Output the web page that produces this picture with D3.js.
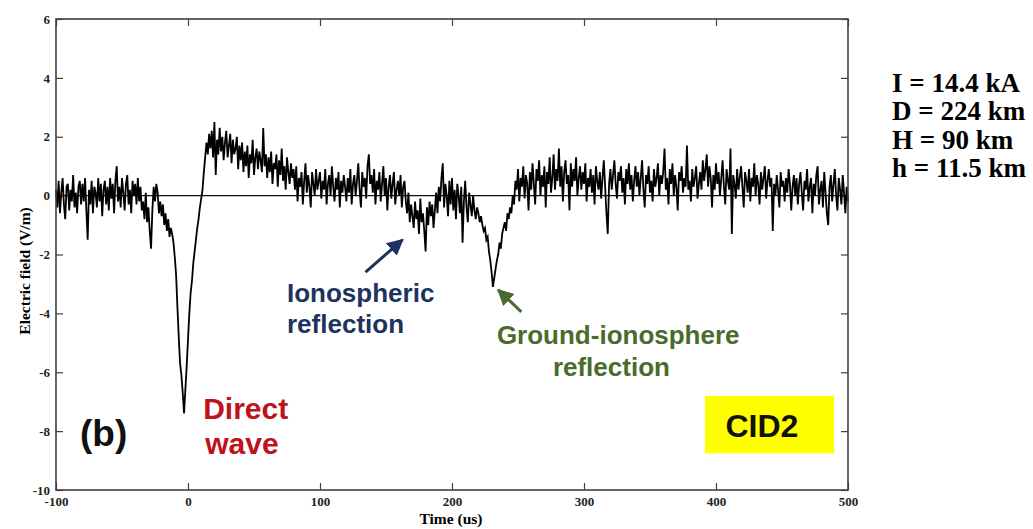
<!DOCTYPE html>
<html>
<head>
<meta charset="utf-8">
<script src="https://cdn.jsdelivr.net/npm/d3@7"></script>
<style>
  body { margin: 0; background: #fff; }
</style>
</head>
<body>
<div class="chart"></div>
<script>
// Chart size
var svgWidth = 1033;
var svgHeight = 529;
var margin = {top: 19, right: 185, bottom: 39, left: 56};
var width = svgWidth - margin.left - margin.right;
var height = svgHeight - margin.top - margin.bottom;

// data
var tStart = -100;   // first sample (us)
var tStep = 1;       // sample spacing (us)
var xTicks = [-100, 0, 100, 200, 300, 400, 500];
var yTicks = [-10, -8, -6, -4, -2, 0, 2, 4, 6];
var params = ["I = 14.4 kA", "D = 224 km", "H = 90 km", "h = 11.5 km"];

// electric field (V/m), one value per us from -100 to 500
var field = [
  0.2, -0.4, 0.5, -0.6, 0.1, 0.6, -0.3, -0.8, 0.3, 0.4, -0.5, 0.2, -0.2, 0.7, -0.4, 0.1, -0.6, 0.3, 0.5, -0.3,
  0.4, -0.2, 0.6, -0.5, -1.5, 0.2, -0.3, 0.5, -0.6, 0.3, 0.1, -0.4, 0.6, -0.2, 0.4, -0.7, 0.2, 0.5, -0.3, 0.3,
  -0.5, 0.6, -0.1, 0.4, -0.6, 0.5, 1.0, -0.2, 0.3, -0.4, 0.6, 0.1, -0.5, 0.4, 0.7, -0.3, 0.2, -0.6, 0.5, 0.0,
  0.4, -0.3, 0.6, -0.2, 0.3, -0.5, -0.2, -0.8, 0.1, -0.9, -0.4, -1.2, -1.8, -0.5, 0.3, -0.2, 0.4, 0.1, -0.6, -0.2,
  -0.7, -0.3, -1.0, -0.6, -1.2, -0.8, -1.4, -1.1, -1.3, -1.6, -2.1, -2.7, -3.8, -4.8, -5.7, -6.1, -6.7, -7.4, -6.6, -5.8,
  -4.9, -4.0, -3.3, -2.9, -2.3, -1.9, -1.5, -1.1, -0.8, -0.4, -0.1, 0.2, 0.8, 1.3, 1.8, 1.4, 2.1, 1.6, 2.2, 1.3,
  2.5, 0.7, 1.9, 1.4, 2.3, 1.5, 2.0, 1.2, 1.8, 2.2, 1.3, 1.7, 2.1, 1.1, 1.9, 1.4, 1.6, 2.0, 0.9, 1.7,
  1.2, 1.8, 0.8, 1.5, 1.0, 1.7, 0.6, 1.4, 1.1, 1.9, 0.7, 1.3, 1.6, 0.9, 1.5, 1.2, 0.8, 2.3, 1.0, 1.4,
  0.6, 1.3, 0.8, 1.5, 0.4, 1.1, 0.9, 1.4, 0.3, 1.2, 0.7, 1.6, 0.5, 1.0, 0.2, 1.3, 0.8, 0.4, 1.1, 0.6,
  0.9, 0.2, 1.0, -0.2, 0.6, 0.3, 0.8, -0.3, 0.5, 1.1, 0.1, 0.7, 0.3, -0.4, 0.8, 0.4, 0.0, 0.9, 0.2, 0.5,
  0.8, -0.1, 0.5, 0.2, 0.9, -0.3, 0.4, 0.7, 0.0, 1.0, 0.3, -0.2, 0.6, 0.2, 0.8, -0.4, 0.5, 0.1, 0.7, 0.3,
  -0.2, 0.6, 0.1, 0.9, -0.3, 0.4, 0.7, 0.0, 0.5, 1.1, 0.2, -0.4, 0.8, 0.3, 0.6, -0.1, 1.0, 1.4, 0.4, 0.7,
  0.1, 0.9, -0.3, 0.5, 0.2, 0.8, -0.2, 0.4, 1.0, 0.0, 0.6, -0.5, 0.3, 0.7, -0.1, 0.4, 0.8, -0.3, 0.2, 0.5,
  0.0, 0.7, -0.4, 0.3, 0.5, -0.2, -0.6, 0.1, -0.9, -0.3, -0.7, -1.1, -0.2, -0.8, -0.5, -1.3, -0.1, -0.9, -0.6, -1.2,
  -1.9, -0.4, -1.0, -0.2, -0.7, -0.3, -1.1, -0.5, 0.1, -0.6, 0.3, -0.2, 0.6, 1.1, -0.4, 0.4, 0.0, -0.7, 0.5, -0.3,
  0.6, -0.5, 0.2, -0.8, 0.4, 0.0, -0.6, 0.3, -1.6, -0.2, 0.5, -0.4, -0.9, 0.1, -0.3, -0.7, 0.0, -0.5, -0.8, -0.4,
  -0.6, -0.9, -0.7, -1.0, -1.2, -1.1, -1.5, -1.4, -1.9, -2.2, -2.6, -3.1, -2.8, -2.5, -2.2, -2.0, -1.6, -1.8, -1.3, -1.1,
  -0.9, -1.2, -0.6, -0.8, -0.4, -0.6, 0.0, -0.3, 0.5, 0.2, 0.9, -0.2, 0.6, 0.3, 1.0, -0.1, 0.7, 0.4, -0.5, 0.8,
  0.2, 1.1, 0.4, -0.3, 0.9, 0.5, 1.2, 0.0, 0.7, 0.3, 1.0, -0.4, 0.8, 0.4, 1.3, 0.1, 0.6, 1.4, 0.2, 0.9,
  0.5, 1.6, 0.3, 1.0, -0.2, 0.8, 1.2, 0.4, 0.7, -0.5, 1.1, 0.3, 0.9, 0.5, 1.3, 0.0, 0.6, 1.0, 0.2, 0.8,
  0.4, 1.1, -0.2, 0.6, 0.3, 0.9, 0.1, 0.7, -0.3, 1.0, 0.5, 0.2, 0.8, -0.1, 0.6, 1.2, 0.3, -0.6, -1.3, 0.4,
  0.9, 0.2, 0.7, 1.2, 0.4, -0.1, 0.8, 0.5, 1.0, 0.1, 0.6, -0.3, 0.9, 0.4, 1.1, 0.2, 0.7, -0.2, 0.5, 1.0,
  0.3, 0.8, 0.0, 0.6, 1.2, 0.2, -0.4, 0.7, 0.4, 1.0, 0.1, 0.5, -0.2, 0.9, 0.3, 0.6, 1.1, 0.0, 0.7, 0.4,
  0.8, 1.6, 0.2, 0.6, -0.3, 0.9, 0.4, 1.1, 0.0, 0.7, 0.3, -0.5, 0.8, 0.5, 1.0, 0.1, 0.6, 0.3, 1.7, 0.2,
  0.5, -0.2, 0.9, 0.3, 0.6, 1.0, -0.1, 0.4, 0.8, 0.2, 1.2, 0.5, 0.9, 1.4, 0.3, 1.0, 0.6, -0.4, 0.7, 0.2,
  1.1, 0.4, 0.8, 0.0, 0.6, 1.2, 0.3, -0.3, 0.9, 0.5, 0.2, 1.6, -1.3, 0.7, 0.4, -0.1, 0.9, 0.2, 0.6, 1.0,
  0.3, -0.4, 0.8, 0.5, 0.1, 0.9, -0.2, 0.6, 0.3, 1.1, 0.0, 0.7, 0.4, -0.3, 0.8, 0.2, 0.6, 1.0, -0.1, 0.5,
  0.9, 0.3, 0.6, -1.2, 0.4, 0.0, 0.7, 0.2, -0.4, 0.8, 0.3, 0.5, -0.2, 0.6, 0.1, 0.9, 0.4, -0.5, 0.3, 0.7,
  0.0, 0.6, -0.3, 0.4, 0.8, 0.1, -0.5, 0.5, 0.2, 0.9, -0.2, 0.3, 0.6, -0.6, 0.4, 0.0, 0.7, 1.0, -0.3, 0.2,
  0.5, -0.4, 0.8, 0.1, -0.6, -1.0, 0.3, 0.7, -0.2, 0.4, 0.9, 0.0, -0.5, 0.6, 0.2, -0.3, 0.7, 0.1, -0.6, 0.3,
  -0.2
];

var serif = '"Liberation Serif", "Times New Roman", serif';
var sans = '"Liberation Sans", Arial, sans-serif';

var svg = d3.select('.chart')
  .append('svg')
  .attr('width', svgWidth)
  .attr('height', svgHeight);

var chart = svg.append('g')
  .attr('transform', 'translate(' + margin.left + ',' + margin.top + ')');

var xScale = d3.scaleLinear().domain([-100, 500]).range([0, width]);
var yScale = d3.scaleLinear().domain([-10, 6]).range([height, 0]);

function plain(d) { return String(d); }

// axes, MATLAB style ticks pointing inward on all four sides
var axes = [
  chart.append('g')
    .attr('transform', 'translate(0,' + height + ')')
    .call(d3.axisBottom(xScale).tickValues(xTicks).tickSizeInner(-7).tickSizeOuter(0).tickPadding(7).tickFormat(plain)),
  chart.append('g')
    .call(d3.axisTop(xScale).tickValues(xTicks).tickSizeInner(-7).tickSizeOuter(0).tickFormat('')),
  chart.append('g')
    .call(d3.axisLeft(yScale).tickValues(yTicks).tickSizeInner(-7).tickSizeOuter(0).tickPadding(6).tickFormat(plain)),
  chart.append('g')
    .attr('transform', 'translate(' + width + ',0)')
    .call(d3.axisRight(yScale).tickValues(yTicks).tickSizeInner(-7).tickSizeOuter(0).tickFormat(''))
];
axes.forEach(function(a) {
  a.attr('font-family', serif).attr('font-size', 13);
  a.select('.domain').remove();
  a.selectAll('.tick line').attr('stroke', '#404040').attr('stroke-width', 1.2);
  a.selectAll('.tick text')
    .attr('fill', '#222')
    .style('font-family', serif).style('font-weight', 'bold').style('font-size', '13px');
});

// zero line
chart.append('line')
  .attr('x1', xScale(-100)).attr('x2', xScale(500))
  .attr('y1', yScale(0)).attr('y2', yScale(0))
  .attr('stroke', '#111').attr('stroke-width', 1.3);

// waveform
var line = d3.line()
  .x(function(d, i) { return xScale(tStart + i * tStep); })
  .y(function(d) { return yScale(d); });

chart.append('path')
  .datum(field)
  .attr('d', line)
  .attr('fill', 'none')
  .attr('stroke', '#000')
  .attr('stroke-width', 1.8);

// frame
chart.append('rect')
  .attr('width', width).attr('height', height)
  .attr('fill', 'none').attr('stroke', '#404040').attr('stroke-width', 1.6);

// axis titles
svg.append('text')
  .attr('transform', 'translate(30,271) rotate(-90)')
  .attr('text-anchor', 'middle')
  .style('font-family', serif).style('font-weight', 'bold').style('font-size', '15.5px')
  .text('Electric field (V/m)');

svg.append('text')
  .attr('x', 451).attr('y', 524)
  .attr('text-anchor', 'middle')
  .style('font-family', serif).style('font-weight', 'bold').style('font-size', '15.5px')
  .text('Time (us)');

// parameters at right
svg.append('g').selectAll('text')
  .data(params)
  .enter().append('text')
  .attr('x', 892)
  .attr('y', function(d, i) { return 92 + i * 28.4; })
  .style('font-family', serif).style('font-weight', 'bold').style('font-size', '27px')
  .text(function(d) { return d; });

// annotations
function label(t, v, lines, color, size, dyLine) {
  var txt = chart.append('text')
    .attr('x', xScale(t)).attr('y', yScale(v))
    .style('font-family', sans).style('font-weight', 'bold').style('font-size', size + 'px')
    .attr('fill', color);
  lines.forEach(function(s, i) {
    txt.append('tspan')
      .attr('x', xScale(t) + (s.dx || 0))
      .attr('y', yScale(v) + i * dyLine)
      .text(s.text);
  });
}

label(11.5, -7.6, [{text: 'Direct'}, {text: 'wave', dx: 2}], '#c0121b', 30, 35);
label(-81.8, -8.5, [{text: '(b)'}], '#111', 37, 0);
label(75, -3.6, [{text: 'Ionospheric'}, {text: 'reflection'}], '#1c3360', 26, 31);
label(234, -5.05, [{text: 'Ground-ionosphere'}, {text: 'reflection', dx: 56}], '#4b6b2c', 26, 32);

// arrows
var defs = svg.append('defs');
function marker(id, color) {
  defs.append('marker')
    .attr('id', id)
    .attr('viewBox', '0 0 10 10')
    .attr('refX', 9).attr('refY', 5)
    .attr('markerWidth', 5.5).attr('markerHeight', 5.5)
    .attr('markerUnits', 'strokeWidth')
    .attr('orient', 'auto')
    .append('path').attr('d', 'M0,0 L10,5 L0,10 z').attr('fill', color);
}
marker('headBlue', '#1c3360');
marker('headGreen', '#4b6b2c');

chart.append('line')
  .attr('x1', xScale(134.5)).attr('y1', yScale(-2.6))
  .attr('x2', xScale(162.5)).attr('y2', yScale(-1.5))
  .attr('stroke', '#1c3360').attr('stroke-width', 3)
  .attr('marker-end', 'url(#headBlue)');

chart.append('line')
  .attr('x1', xScale(252.5)).attr('y1', yScale(-3.95))
  .attr('x2', xScale(235)).attr('y2', yScale(-3.2))
  .attr('stroke', '#4b6b2c').attr('stroke-width', 3)
  .attr('marker-end', 'url(#headGreen)');

// CID2 box
chart.append('rect')
  .attr('x', xScale(391.7)).attr('y', yScale(-6.8))
  .attr('width', xScale(489.4) - xScale(391.7))
  .attr('height', yScale(-8.75) - yScale(-6.8))
  .attr('fill', '#ffff00');
chart.append('text')
  .attr('x', xScale(434.8)).attr('y', yScale(-8.2))
  .attr('text-anchor', 'middle')
  .style('font-family', sans).style('font-weight', 'bold').style('font-size', '32px')
  .attr('fill', '#111')
  .text('CID2');
</script>
</body>
</html>
